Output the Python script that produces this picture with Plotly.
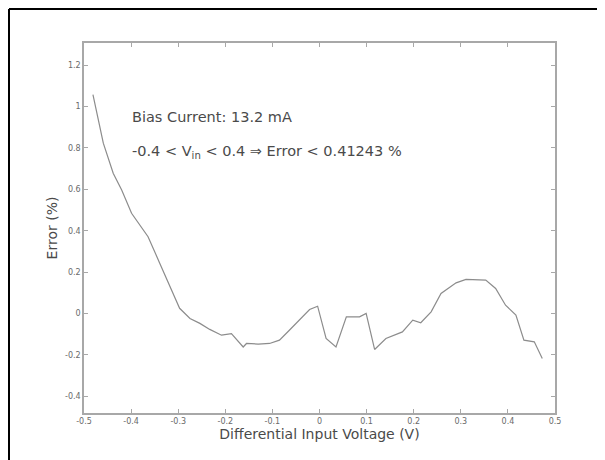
import plotly.graph_objects as go

voltage = [-0.481, -0.459, -0.438, -0.420, -0.399, -0.364, -0.339, -0.318, -0.297, -0.275,
           -0.254, -0.233, -0.208, -0.187, -0.176, -0.162, -0.155, -0.130, -0.106, -0.085,
           -0.064, -0.042, -0.021, -0.004, 0.014, 0.035, 0.057, 0.085, 0.099, 0.117,
           0.141, 0.176, 0.198, 0.215, 0.237, 0.258, 0.290, 0.311, 0.353, 0.374,
           0.395, 0.417, 0.434, 0.456, 0.473]
error_pct = [1.057, 0.823, 0.678, 0.597, 0.484, 0.371, 0.242, 0.129, 0.025, -0.024,
             -0.048, -0.077, -0.105, -0.097, -0.126, -0.162, -0.145, -0.148, -0.145, -0.129,
             -0.081, -0.032, 0.019, 0.035, -0.121, -0.162, -0.016, -0.016, 0.000, -0.174,
             -0.121, -0.089, -0.032, -0.045, 0.008, 0.097, 0.148, 0.165, 0.161, 0.121,
             0.040, -0.008, -0.129, -0.137, -0.218]

x_ticks = [-0.5, -0.4, -0.3, -0.2, -0.1, 0, 0.1, 0.2, 0.3, 0.4, 0.5]
x_tick_labels = ["-0.5", "-0.4", "-0.3", "-0.2", "-0.1", "0", "0.1", "0.2", "0.3", "0.4", "0.5"]
y_ticks = [-0.4, -0.2, 0, 0.2, 0.4, 0.6, 0.8, 1.0, 1.2]
y_tick_labels = ["-0.4", "-0.2", "0", "0.2", "0.4", "0.6", "0.8", "1", "1.2"]

# page offset of the figure div (default body margin)
OFF = 8
W, H = 597, 452
ml, mr, mt, mb = 76, 50, 35, 47
pw, ph = W - ml - mr, H - mt - mb

def px(xp):
    return (xp - OFF - ml) / pw

def py(yp):
    return (H - mb - (yp - OFF)) / ph

font = "DejaVu Sans, Liberation Sans, Arial, sans-serif"
axis_col = "#a8a8a8"
txt_col = "#4a4a4a"

fig = go.Figure()
fig.add_trace(go.Scatter(x=voltage, y=error_pct, mode="lines",
                         line=dict(color="#8c8c8c", width=1.2), showlegend=False,
                         hoverinfo="skip"))

common = dict(showgrid=False, zeroline=False, showline=True, linecolor=axis_col, linewidth=1.5,
              mirror="ticks", ticks="inside", ticklen=4, tickcolor=axis_col, tickwidth=1,
              tickfont=dict(family=font, size=8, color="#6a6a6a"))

fig.update_xaxes(range=[-0.5, 0.5], tickvals=x_ticks, ticktext=x_tick_labels,
                 title=dict(text="Differential Input Voltage (V)",
                            font=dict(family=font, size=14, color=txt_col), standoff=3),
                 **common)
fig.update_yaxes(range=[-0.481, 1.307], tickvals=y_ticks, ticktext=y_tick_labels,
                 title=dict(text="Error (%)", font=dict(family=font, size=14, color=txt_col),
                            standoff=4),
                 **common)

fig.add_annotation(x=px(130), y=py(117), xref="paper", yref="paper", xanchor="left",
                   yanchor="middle", showarrow=False, text="Bias Current: 13.2 mA",
                   font=dict(family=font, size=14.5, color=txt_col))
fig.add_annotation(x=px(130), y=py(152), xref="paper", yref="paper", xanchor="left",
                   yanchor="middle", showarrow=False,
                   text="-0.4 < V<sub>in</sub> < 0.4 \u21d2 Error < 0.41243 %",
                   font=dict(family=font, size=14.5, color=txt_col))

# outer frame (top and left edges visible)
fig.add_shape(type="line", xref="paper", yref="paper", x0=px(9), x1=px(620), y0=py(9), y1=py(9),
              line=dict(color="black", width=2))
fig.add_shape(type="line", xref="paper", yref="paper", x0=px(9), x1=px(9), y0=py(9), y1=py(470),
              line=dict(color="black", width=2))

fig.update_layout(width=W, height=H, margin=dict(l=ml, r=mr, t=mt, b=mb),
                  paper_bgcolor="white", plot_bgcolor="white")

fig.write_html("out.html")
